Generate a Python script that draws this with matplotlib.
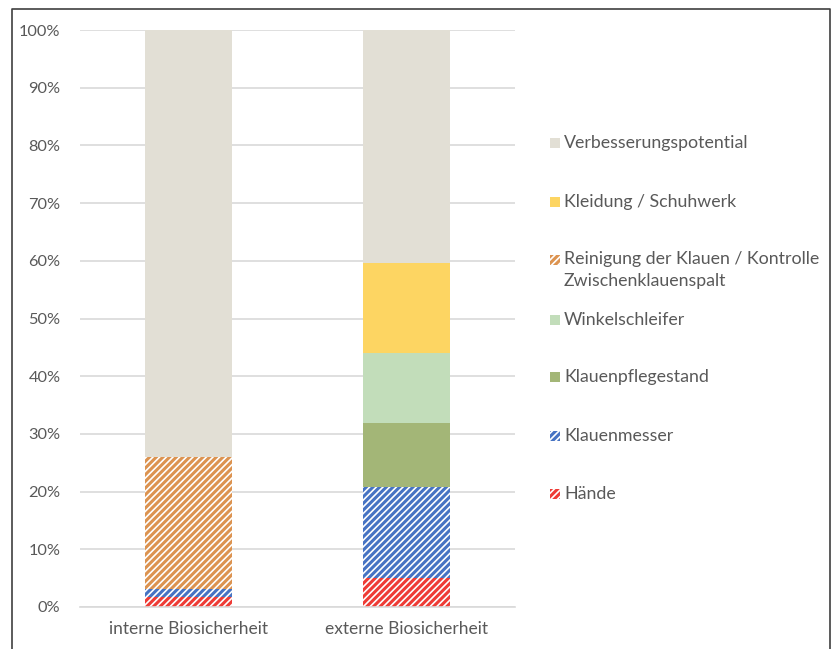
import matplotlib.pyplot as plt
import matplotlib.patches as mpatches
import numpy as np

plt.rcParams['font.family'] = ['Lato', 'DejaVu Sans']
plt.rcParams['hatch.linewidth'] = 2.2

categories = ["interne Biosicherheit", "externe Biosicherheit"]
series = ["Hände", "Klauenmesser", "Klauenpflegestand", "Winkelschleifer",
          "Reinigung der Klauen / Kontrolle\nZwischenklauenspalt",
          "Kleidung / Schuhwerk", "Verbesserungspotential"]
haende = [1.7, 5.0]
klauenmesser = [1.4, 15.8]
klauenpflegestand = [0.0, 11.1]
winkelschleifer = [0.0, 12.1]
reinigung = [22.9, 0.0]
kleidung = [0.0, 15.6]
verbesserung = [74.0, 40.4]

values = [haende, klauenmesser, klauenpflegestand, winkelschleifer, reinigung, kleidung, verbesserung]
colors = ["#EE3B35", "#4673C3", "#A3B677", "#C2DDBA", "#DC9350", "#FDD562", "#E2DFD5"]
hatched = [True, True, False, False, True, False, False]

fig = plt.figure(figsize=(8.35, 6.49), dpi=100)
ax = fig.add_axes([80/835, 1 - 607/649, 435/835, 577/649])

x = np.arange(len(categories))
bottom = np.zeros(len(categories))
for vals, col, h in zip(values, colors, hatched):
    vals = np.array(vals)
    if h:
        ax.bar(x, vals, 0.4, bottom=bottom, facecolor="white", edgecolor=col,
               hatch="/////", linewidth=0, zorder=2)
    else:
        ax.bar(x, vals, 0.4, bottom=bottom, color=col, linewidth=0, zorder=2)
    bottom += vals

ax.set_xlim(-0.5, 1.5)
ax.set_ylim(0, 100)
ax.set_yticks(np.arange(0, 101, 10))
ax.set_yticklabels([f"{v}%" for v in range(0, 101, 10)])
ax.set_xticks(x)
ax.set_xticklabels(categories)
ax.grid(axis="y", color="#D9D9D9", linewidth=1.2, zorder=0)
ax.set_axisbelow(True)
for s in ax.spines.values():
    s.set_visible(False)
ax.spines["bottom"].set_visible(True)
ax.spines["bottom"].set_color("#D9D9D9")
ax.spines["bottom"].set_linewidth(1.2)
ax.tick_params(length=0, labelcolor="#595959")
ax.tick_params(axis="y", pad=14, labelsize=11.8)
ax.tick_params(axis="x", pad=10, labelsize=12.5)

# legend, top to bottom
leg_y = [143, 202, 260, 320, 377, 436, 494]
for i, (name, col, h) in enumerate(zip(series[::-1], colors[::-1], hatched[::-1])):
    y = 1 - leg_y[i] / 649
    if h:
        r = mpatches.Rectangle((550/835, y - 5/649), 10/835, 10/649, facecolor="white",
                               edgecolor=col, hatch="/////", linewidth=0, transform=fig.transFigure)
    else:
        r = mpatches.Rectangle((550/835, y - 5/649), 10/835, 10/649, facecolor=col,
                               linewidth=0, transform=fig.transFigure)
    fig.add_artist(r)
    if "\n" in name:
        fig.text(564/835, y + 9/649, name, fontsize=12.8, color="#595959", va="top", linespacing=1.45)
    else:
        fig.text(564/835, y, name, fontsize=12.8, color="#595959", va="center")

# outer frame
frame = plt.Line2D([12/835, 12/835, 830/835, 830/835], [0, 1 - 9/649, 1 - 9/649, 0],
                   transform=fig.transFigure, color="#404040", linewidth=1.2)
fig.add_artist(frame)

fig.savefig("out.png", dpi=100)
